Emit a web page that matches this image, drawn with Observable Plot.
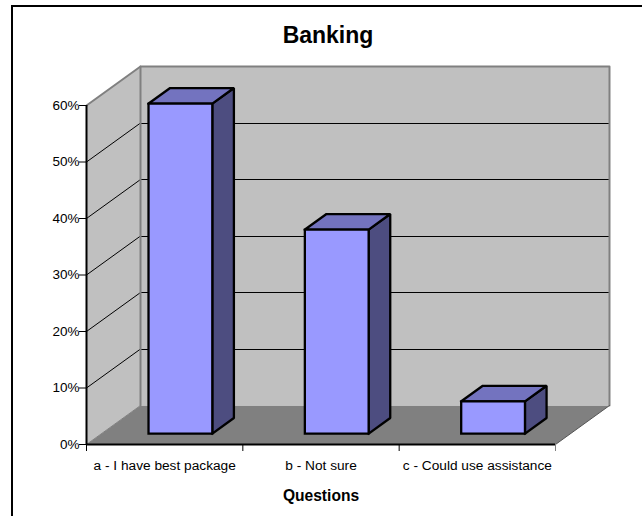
<!DOCTYPE html>
<html>
<head>
<meta charset="utf-8">
<script src="https://cdn.jsdelivr.net/npm/d3@7"></script>
<script src="https://cdn.jsdelivr.net/npm/@observablehq/plot@0.6"></script>
<style>
  html, body { margin: 0; padding: 0; background: #fff; overflow: hidden; }
  body { position: relative; width: 642px; height: 516px; font-family: "Liberation Sans", Arial, sans-serif; }
  #frame { position: absolute; left: 11px; top: 5px; width: 700px; height: 600px; border: 2px solid #000; box-sizing: border-box; }
  #title { position: absolute; left: 0; top: 22px; width: 656px; text-align: center; font-size: 23px; font-weight: bold; color: #000; }
  #chart { position: absolute; left: 0; top: 0; }
  svg { display: block; background: transparent !important; }
</style>
</head>
<body>
<div id="frame"></div>
<div id="chart"></div>
<div id="title">Banking</div>
<script>
// Survey answers, percent of respondents
const categories = ["a - I have best package", "b - Not sure", "c - Could use assistance"];
const values = [58.4, 36.1, 5.7];
const yTicks = [0, 10, 20, 30, 40, 50, 60];
const xTicks = [0, 1, 2];
const xEndTick = [3];

// Oblique projection: how far one full unit of depth shifts a point, in data units
const DEPTH_X = 0.3454;
const DEPTH_Y = 6.9;
const project = (cat, val, depth) => ({x: cat + depth * DEPTH_X, y: val + depth * DEPTH_Y});

const BAR_INSET = 0.3, BAR_WIDTH = 0.408, BAR_FRONT = 0.28, BAR_BACK = 0.68;
const Y_MAX = 60, CATS = 3;

const FRONT = "#9999ff", TOP = "#7373bf", SIDE = "#4d4d80";
const WALL = "#c0c0c0", FLOOR = "#808080", EDGE = "#808080";

// A closed polygon drawn as a filled line
const poly = (pts, fill, stroke, strokeWidth) =>
  Plot.line([...pts, pts[0]], {x: "x", y: "y", fill, stroke, strokeWidth, strokeLinejoin: "miter", strokeLinecap: "square"});
const seg = (pts, stroke, strokeWidth, options = {}) =>
  Plot.line(pts, {x: "x", y: "y", stroke, strokeWidth, ...options});

const walls = [
  // floor
  poly([project(0, 0, 0), project(CATS, 0, 0), project(CATS, 0, 1), project(0, 0, 1)], FLOOR, "none", 0),
  // left wall
  poly([project(0, 0, 0), project(0, Y_MAX, 0), project(0, Y_MAX, 1), project(0, 0, 1)], WALL, "none", 0),
  // back wall
  poly([project(0, 0, 1), project(0, Y_MAX, 1), project(CATS, Y_MAX, 1), project(CATS, 0, 1)], WALL, "none", 0)
];

// Horizontal rules stay on whole pixels so they read as solid one-pixel lines
const gridlines = yTicks.filter(t => t > 0 && t < Y_MAX).flatMap(t => [
  seg([project(0, t, 0), project(0, t, 1)], "#000", 1),
  seg([project(0, t, 1), project(CATS, t, 1)], "#000", 1, {shapeRendering: "crispEdges"})
]);

const edges = [
  seg([project(0, Y_MAX, 0), project(0, Y_MAX, 1)], EDGE, 2),
  seg([project(0, 0, 1), project(0, Y_MAX, 1), project(CATS, Y_MAX, 1), project(CATS, 0, 1)], EDGE, 2),
  seg([project(0, 0, 0), project(0, 0, 1)], EDGE, 1),
  seg([project(CATS, 0, 0), project(CATS, 0, 1)], "#555", 1)
];

const bars = values.flatMap((v, i) => {
  const l = i + BAR_INSET, r = l + BAR_WIDTH;
  return [
    poly([project(r, 0, BAR_FRONT), project(r, 0, BAR_BACK), project(r, v, BAR_BACK), project(r, v, BAR_FRONT)], SIDE, "#000", 2.3),
    poly([project(l, v, BAR_FRONT), project(r, v, BAR_FRONT), project(r, v, BAR_BACK), project(l, v, BAR_BACK)], TOP, "#000", 2.3),
    poly([project(l, 0, BAR_FRONT), project(r, 0, BAR_FRONT), project(r, v, BAR_FRONT), project(l, v, BAR_FRONT)], FRONT, "#000", 2.3)
  ];
});

const chart = Plot.plot({
  width: 642,
  height: 516,
  marginLeft: 86,
  marginRight: 87,
  marginTop: 105,
  marginBottom: 72,
  style: {fontFamily: "'Liberation Sans', Arial, sans-serif", color: "#000", background: "transparent", overflow: "visible"},
  x: {type: "linear", domain: [0, CATS], axis: null},
  y: {type: "linear", domain: [0, Y_MAX], axis: null},
  marks: [
    ...walls,
    ...gridlines,
    ...edges,
    ...bars,
    Plot.ruleX([0], {y1: 0, y2: Y_MAX, stroke: "#000", strokeWidth: 2}),
    Plot.ruleY([0], {x1: 0, x2: CATS, stroke: "#000", strokeWidth: 2}),
    Plot.axisY({ticks: yTicks, tickFormat: d => d + "%", tickSize: 7, tickPadding: 0, fontSize: 13.5, label: null, stroke: "#000", marginLeft: 86}),
    Plot.axisX({ticks: xTicks, tickFormat: () => "", tickSize: 7, label: null, stroke: "#000"}),
    Plot.axisX({ticks: xEndTick, tickFormat: () => "", tickSize: 7, label: null, stroke: EDGE}),
    Plot.text(categories, {x: (d, i) => i + 0.5, y: 0, dy: 21.5, text: d => d, fontSize: 13.7, fill: "#000"}),
    Plot.text(["Questions"], {x: () => CATS / 2, y: 0, dy: 51, text: d => d, fontSize: 15.6, fontWeight: "bold", fill: "#000"})
  ]
});
document.getElementById("chart").appendChild(chart);
</script>
</body>
</html>
